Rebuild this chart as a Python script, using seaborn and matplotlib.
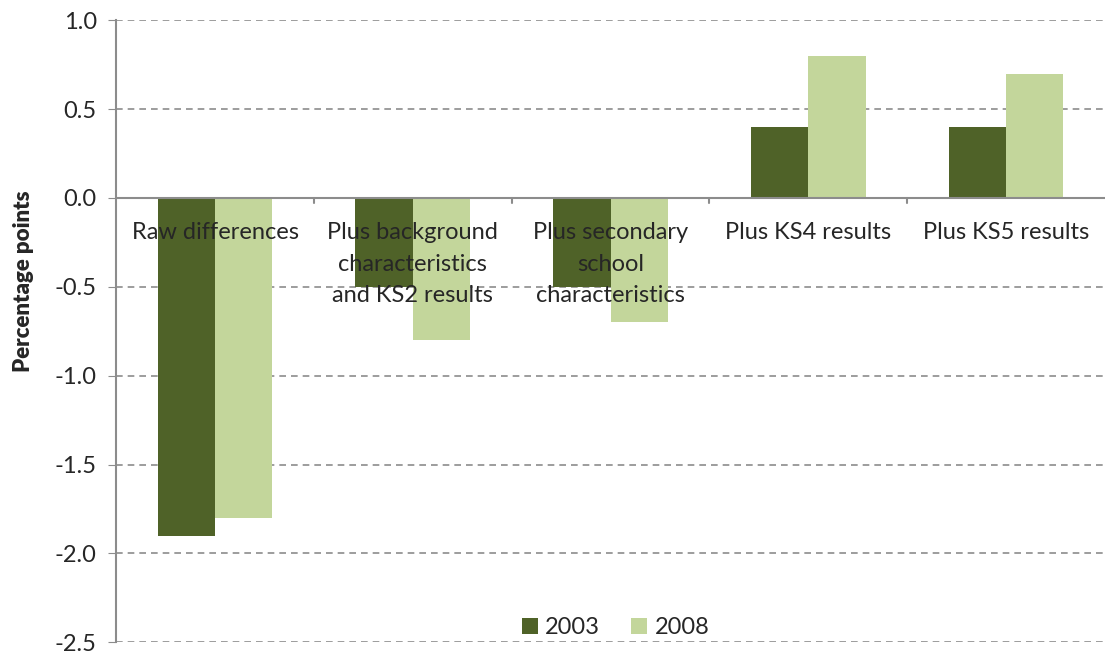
import matplotlib
matplotlib.use("Agg")
import matplotlib.pyplot as plt
import numpy as np
import pandas as pd
import seaborn as sns

categories = ["Raw differences",
              "Plus background\ncharacteristics\nand KS2 results",
              "Plus secondary\nschool\ncharacteristics",
              "Plus KS4 results",
              "Plus KS5 results"]
years = ["2003", "2008"]
values_2003 = [-1.9, -0.5, -0.5, 0.4, 0.4]
values_2008 = [-1.8, -0.8, -0.7, 0.8, 0.7]
yticks = [1.0, 0.5, 0.0, -0.5, -1.0, -1.5, -2.0, -2.5]

df = pd.DataFrame({
    "category": categories * 2,
    "year": [years[0]] * 5 + [years[1]] * 5,
    "value": values_2003 + values_2008,
})

sns.set_style("white")
plt.rcParams["font.family"] = ["Lato", "DejaVu Sans"]

fig = plt.figure(figsize=(11.06, 6.54), dpi=100)
ax = fig.add_axes([0.105, 0.018, 0.894, 0.951])

sns.barplot(data=df, x="category", y="value", hue="year",
            palette=["#4f6228", "#c3d69b"], width=0.58,
            saturation=1, linewidth=0, ax=ax, zorder=3)

ax.set_ylim(-2.5, 1.0)
ax.set_yticks(yticks)
ax.set_yticklabels([f"{t:.1f}" for t in yticks], fontsize=17)
ax.set_xlim(-0.5, 4.5)

# dashed grid, solid zero line
ax.yaxis.grid(True, color="#8c8c8c", linestyle=(0, (4, 3)), linewidth=1.2, zorder=0)
ax.set_axisbelow(True)
ax.axhline(0, color="#8c8c8c", linewidth=1.5, zorder=4)

for side in ["top", "right", "bottom"]:
    ax.spines[side].set_visible(False)
ax.spines["left"].set_color("#8c8c8c")
ax.spines["left"].set_linewidth(1.5)
ax.tick_params(axis="y", which="major", left=True, length=6, color="#8c8c8c",
               direction="out", pad=8)

# category labels just under the zero line
ax.set_xticks([])
ax.set_xlabel("")
for i, lab in enumerate(categories):
    ax.text(i, -0.135, lab, ha="center", va="top", fontsize=17,
            linespacing=1.62, zorder=5)
for b in np.arange(0.5, 4.5, 1.0):
    ax.plot([b, b], [0, -0.03], color="#8c8c8c", linewidth=1.5, zorder=4)

ax.set_ylabel("Percentage points", fontsize=16, fontweight="heavy")
ax.yaxis.set_label_coords(-0.083, 0.58)

handles, labels = ax.get_legend_handles_labels()
ax.legend(handles, labels, loc="lower center", bbox_to_anchor=(0.505, -0.028),
          ncol=2, frameon=False, fontsize=17, handlelength=0.7,
          handleheight=0.7, handletextpad=0.3, columnspacing=1.3)

fig.savefig("out.png", dpi=100)
